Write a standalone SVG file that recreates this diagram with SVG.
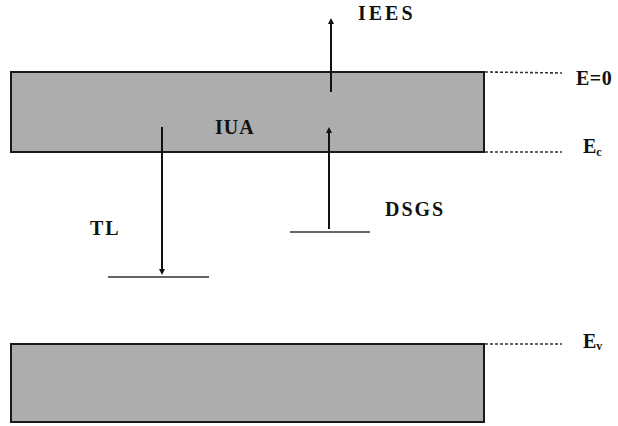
<svg xmlns="http://www.w3.org/2000/svg" width="618" height="426" viewBox="0 0 618 426">
<style>
.band{fill:#adadad;stroke:#1a1a1a;stroke-width:2}
.dot{stroke:#333;stroke-width:1.6;stroke-dasharray:3,2;fill:none}
.lvl{stroke:#333;stroke-width:1.3}
.arr{stroke:#111;stroke-width:2;fill:none}
.t{font-family:"Liberation Serif",serif;font-weight:bold;font-size:20px;letter-spacing:2px;fill:#111}
.s{font-size:12px;letter-spacing:0}
</style>
<defs>
<marker id="ah" viewBox="0 0 6 6" refX="3" refY="3" markerWidth="3" markerHeight="3" orient="auto">
<path d="M0,0 L6,3 L0,6 z" fill="#111"/>
</marker>
</defs>
<g id="conduction-band"><rect class="band" x="11" y="72" width="473" height="80"/><text class="t" x="215" y="134" style="letter-spacing:1px">IUA</text></g>
<g id="valence-band"><rect class="band" x="11" y="344" width="473" height="78"/></g>
<g id="tl-level"><line class="lvl" x1="108" y1="277" x2="209" y2="277"/><text class="t" x="90" y="235">TL</text></g>
<g id="dsgs-level"><line class="lvl" x1="290" y1="232" x2="370" y2="232"/><text class="t" x="385" y="216">DSGS</text></g>
<g id="labels">
<text class="t" x="358" y="20" style="letter-spacing:3px">IEES</text>
<text class="t" x="576" y="85" style="letter-spacing:0.5px">E=0</text>
<text class="t" x="583" y="153" style="letter-spacing:0">E<tspan class="s" dy="3">c</tspan></text>
<text class="t" x="583" y="348" style="letter-spacing:0">E<tspan class="s" dy="2">v</tspan></text>
</g>
<g id="connectors">
<line class="dot" x1="485" y1="72" x2="562" y2="73"/>
<line class="dot" x1="485" y1="152" x2="562" y2="152"/>
<line class="dot" x1="485" y1="344" x2="562" y2="344"/>
<line class="arr" x1="331" y1="92" x2="331" y2="21" marker-end="url(#ah)"/>
<line class="arr" x1="162" y1="127" x2="162" y2="272" marker-end="url(#ah)"/>
<line class="arr" x1="329" y1="229" x2="329" y2="130" marker-end="url(#ah)"/>
</g>
</svg>
